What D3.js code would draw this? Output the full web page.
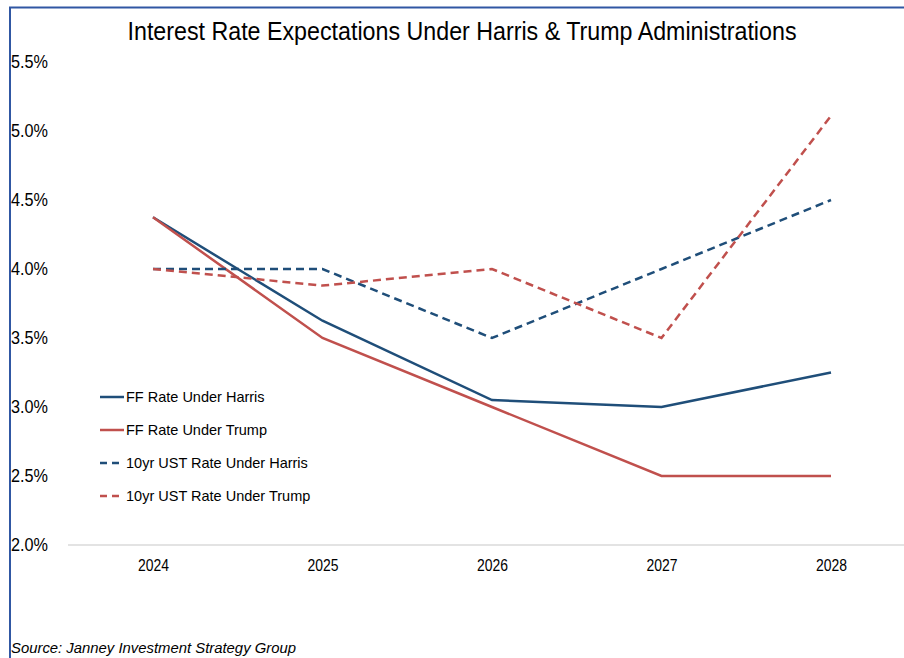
<!DOCTYPE html>
<html>
<head>
<meta charset="utf-8">
<script src="https://cdn.jsdelivr.net/npm/d3@7"></script>
<style>
  html, body { margin: 0; padding: 0; background: #fff; }
  svg { display: block; font-family: "Liberation Sans", Arial, sans-serif; }
</style>
</head>
<body>
<svg id="chart" width="904" height="658"></svg>
<script>
// Chart values
const years = ['2024', '2025', '2026', '2027', '2028'];
const ffHarris = [4.375, 3.625, 3.05, 3.0, 3.25];
const ffTrump = [4.375, 3.5, 3.0, 2.5, 2.5];
const ustHarris = [4.0, 4.0, 3.5, 4.0, 4.5];
const ustTrump = [4.0, 3.88, 4.0, 3.5, 5.11];
const yTicks = [2.0, 2.5, 3.0, 3.5, 4.0, 4.5, 5.0, 5.5];
const seriesNames = ['FF Rate Under Harris', 'FF Rate Under Trump', '10yr UST Rate Under Harris', '10yr UST Rate Under Trump'];

const navy = '#1f4e79';
const red = '#c0504d';

const series = [
  { name: seriesNames[0], values: ffHarris, color: navy, dash: null },
  { name: seriesNames[1], values: ffTrump, color: red, dash: null },
  { name: seriesNames[2], values: ustHarris, color: navy, dash: '8,5' },
  { name: seriesNames[3], values: ustTrump, color: red, dash: '8,5' }
];

const svg = d3.select('#chart');
const width = 904, height = 658;

// Frame (left and top edges visible)
svg.append('line')
  .attr('x1', 10).attr('x2', 10).attr('y1', 7).attr('y2', height)
  .attr('stroke', '#3057a3').attr('stroke-width', 2);
svg.append('line')
  .attr('x1', 9).attr('x2', width).attr('y1', 7.5).attr('y2', 7.5)
  .attr('stroke', '#3057a3').attr('stroke-width', 2);

// Title
svg.append('text')
  .attr('x', 462).attr('y', 40)
  .attr('text-anchor', 'middle')
  .attr('font-size', 26)
  .attr('fill', '#000')
  .attr('textLength', 669)
  .attr('lengthAdjust', 'spacingAndGlyphs')
  .text('Interest Rate Expectations Under Harris & Trump Administrations');

// Scales
const xScale = d3.scalePoint()
  .domain(years)
  .range([153, 831]);

const yScale = d3.scaleLinear()
  .domain([2.0, 5.5])
  .range([545, 62]);

// Y axis labels (left aligned against the frame)
const yAxis = svg.append('g')
  .call(d3.axisLeft(yScale).tickValues(yTicks).tickSize(0).tickFormat(d => d.toFixed(1) + '%'));
yAxis.select('.domain').remove();
yAxis.selectAll('text')
  .attr('x', 11)
  .attr('text-anchor', 'start')
  .attr('font-size', 18)
  .attr('font-family', '"Liberation Sans", Arial, sans-serif')
  .attr('textLength', 37)
  .attr('lengthAdjust', 'spacingAndGlyphs')
  .attr('fill', '#000');

// X axis
svg.append('line')
  .attr('x1', 68).attr('x2', width)
  .attr('y1', yScale(2.0)).attr('y2', yScale(2.0))
  .attr('stroke', '#e3e3e3').attr('stroke-width', 2);

const xAxis = svg.append('g')
  .attr('transform', `translate(0,${yScale(2.0)})`)
  .call(d3.axisBottom(xScale).tickSize(0).tickPadding(15));
xAxis.select('.domain').remove();
xAxis.selectAll('text')
  .attr('font-size', 16)
  .attr('font-family', '"Liberation Sans", Arial, sans-serif')
  .attr('textLength', 31)
  .attr('lengthAdjust', 'spacingAndGlyphs')
  .attr('fill', '#000');

// Lines
const line = d3.line()
  .x((d, i) => xScale(years[i]))
  .y(d => yScale(d));

svg.selectAll('.series')
  .data(series)
  .enter()
  .append('path')
  .attr('class', 'series')
  .attr('fill', 'none')
  .attr('stroke', d => d.color)
  .attr('stroke-width', 2.5)
  .attr('stroke-dasharray', d => d.dash)
  .attr('d', d => line(d.values));

// Legend
const legend = svg.append('g');
const legendY = d3.scalePoint().domain(seriesNames).range([397, 496]);

const item = legend.selectAll('.item')
  .data(series)
  .enter()
  .append('g')
  .attr('class', 'item')
  .attr('transform', d => `translate(0,${legendY(d.name)})`);

item.append('line')
  .attr('x1', 100).attr('x2', 124)
  .attr('stroke', d => d.color)
  .attr('stroke-width', 2.5)
  .attr('stroke-dasharray', d => d.dash ? '7,5' : null);

item.append('text')
  .attr('x', 126)
  .attr('dy', '0.35em')
  .attr('font-size', 14.5)
  .attr('fill', '#000')
  .text(d => d.name);

// Source
svg.append('text')
  .attr('x', 11).attr('y', 653)
  .attr('font-size', 15)
  .attr('font-style', 'italic')
  .attr('fill', '#000')
  .attr('textLength', 285)
  .attr('lengthAdjust', 'spacingAndGlyphs')
  .text('Source: Janney Investment Strategy Group');
</script>
</body>
</html>
